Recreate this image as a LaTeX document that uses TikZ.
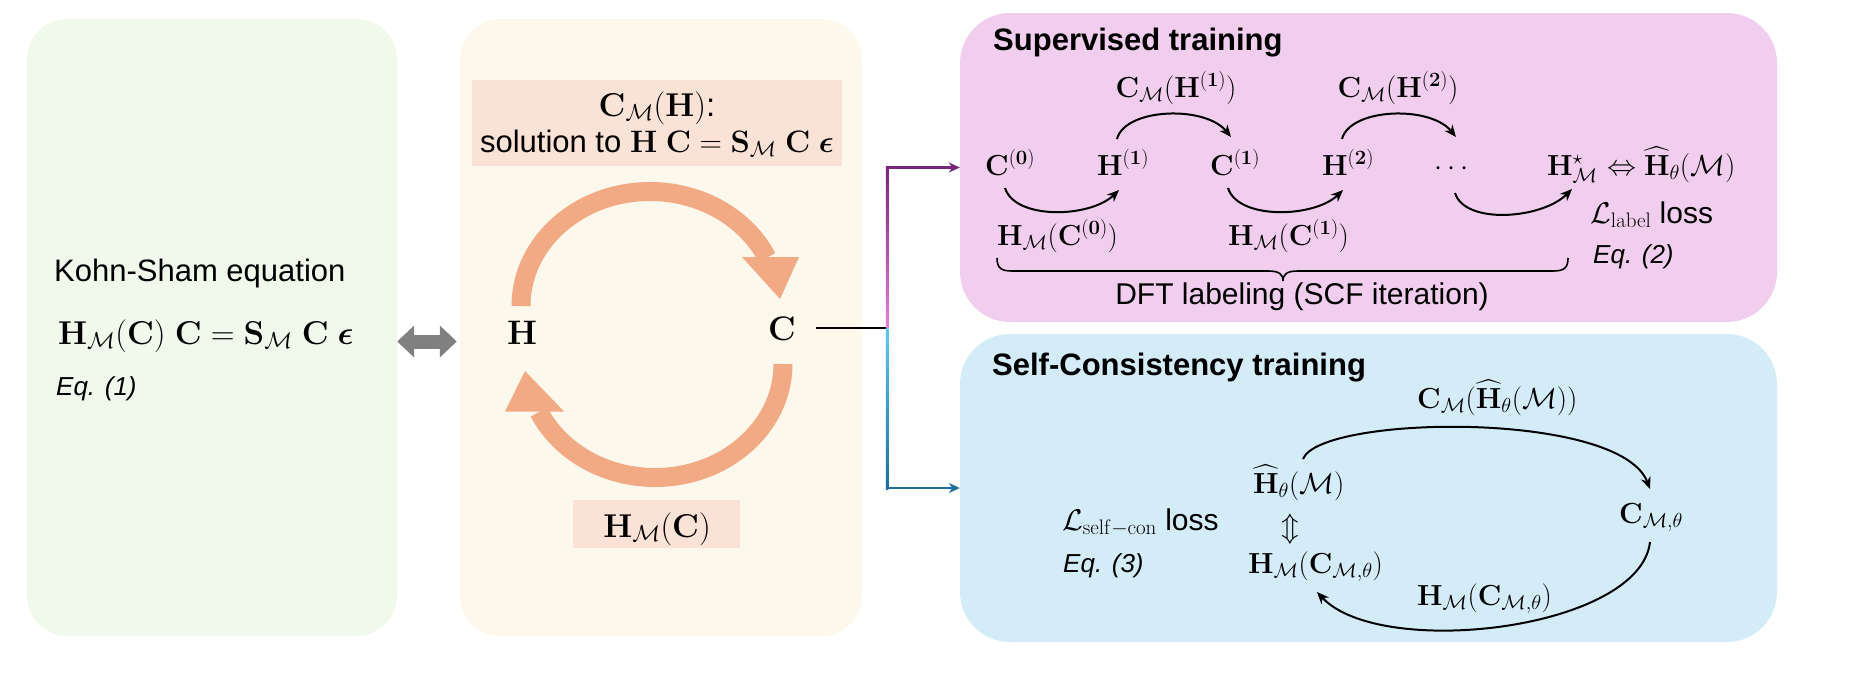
\documentclass[tikz,border=0pt]{standalone}
\usepackage{fix-cm}
\usepackage{amsmath,bm}
\usepackage[no-math]{fontspec}
\setmainfont{Liberation Sans}
\usetikzlibrary{arrows.meta}
\definecolor{greenbg}{RGB}{240,249,236}
\definecolor{yellowbg}{RGB}{253,248,236}
\definecolor{lblbg}{RGB}{251,226,214}
\definecolor{orangec}{RGB}{241,170,132}
\definecolor{pinkbg}{RGB}{241,206,238}
\definecolor{bluebg}{RGB}{211,236,247}
\definecolor{arrgray}{RGB}{128,128,128}
\definecolor{purpD}{RGB}{120,38,122}
\definecolor{purpL}{RGB}{228,128,214}
\definecolor{blueL}{RGB}{96,200,240}
\definecolor{blueD}{RGB}{28,110,160}
\newcommand{\myH}{\mathbf{H}}
\newcommand{\myC}{\mathbf{C}}
\newcommand{\myS}{\mathbf{S}}
\newcommand{\myM}{\mathcal{M}}
\begin{document}
\begin{tikzpicture}[x=1pt,y=-1pt,
  box/.style={inner sep=0pt, draw=none},
  mth/.style={inner sep=0pt, font=\fontsize{29}{34}\selectfont},
  bigm/.style={inner sep=0pt, font=\fontsize{33}{38}\selectfont},
  txt/.style={inner sep=0pt, font=\fontsize{30}{36}\selectfont},
  ttl/.style={inner sep=0pt, font=\fontsize{31}{36}\selectfont\bfseries},
  eqr/.style={inner sep=0pt, font=\fontsize{26}{30}\selectfont\itshape},
  arr/.style={line width=2pt, -{Stealth[length=12pt,width=10pt]}},
  band/.style={orangec, line width=19pt},
]
\useasboundingbox (0,0) rectangle (1852,680);

% panels
\node[box, fill=greenbg, rounded corners=40pt, minimum width=370pt, minimum height=617pt] (ks) at (212,327.5) {};
\node[box, fill=yellowbg, rounded corners=40pt, minimum width=402pt, minimum height=617pt] (cyc) at (661,327.5) {};
\node[box, fill=pinkbg, rounded corners=50pt, minimum width=817pt, minimum height=309pt] (sup) at (1368.5,167.5) {};
\node[box, fill=bluebg, rounded corners=50pt, minimum width=817pt, minimum height=308pt] (selfc) at (1368.5,488) {};

% Kohn-Sham panel
\node[txt, anchor=base west, font=\fontsize{31}{36}\selectfont] (kstitle) at (54,281) {Kohn-Sham equation};
\node[bigm, anchor=base west] (kseq) at (58,344) {$\myH_{\myM}(\myC)\;\myC=\myS_{\myM}\;\myC\;\bm{\epsilon}$};
\node[eqr, anchor=base west] (eq1) at (56,395) {Eq. (1)};

% gray double arrow
\draw[arrgray, line width=14pt, {Triangle[length=17pt,width=31pt]}-{Triangle[length=17pt,width=31pt]}]
  ([shift={(0,14)}]ks.east) -- ([shift={(-3,14)}]cyc.west);

% cycle panel
\node[box, fill=lblbg, minimum width=370pt, minimum height=86pt] (toplbl) at (657,123) {};
\node[bigm, anchor=base] (toplblA) at (657,116) {$\myC_{\myM}(\myH)$:};
\node[bigm, anchor=base, font=\fontsize{31}{36}\selectfont] (toplblB) at (657,152) {solution to $\myH\;\myC=\myS_{\myM}\;\myC\;\bm{\epsilon}$};
\node[box, fill=lblbg, minimum width=167pt, minimum height=48pt] (botlbl) at (656.5,524) {};
\node[bigm, anchor=base] (botlblA) at (657,537) {$\myH_{\myM}(\myC)$};
\node[bigm, anchor=base, font=\fontsize{34}{38}\selectfont] (nH) at (522,344) {$\myH$};
\node[bigm, anchor=base, font=\fontsize{34}{38}\selectfont] (nC) at (782,340) {$\myC$};

\draw[band] (521,306) arc[start angle=180, end angle=25, x radius=129pt, y radius=114.5pt];
\fill[orangec] (742,257) -- (799,257) -- (780,299) -- cycle;
\draw[band] (783,364) arc[start angle=0, end angle=-155, x radius=128pt, y radius=113.5pt];
\fill[orangec] (505,411.5) -- (564,411.5) -- (525,371) -- cycle;

% connectors from C
\coordinate (J) at (887,328);
\draw[black, line width=2.5pt] ([xshift=20pt]nC.east |- J) -- (J);
\draw[purpD, line width=2.5pt, -{Stealth[length=11pt,width=10pt]}] (J) |- (sup.west);
\draw[blueD, line width=2.5pt, -{Stealth[length=11pt,width=10pt]}] (J) |- (selfc.west);
\shade[top color=purpD, bottom color=purpL] (885.75,166.5) rectangle (888.25,328);
\shade[top color=blueL, bottom color=blueD] (885.75,328) rectangle (888.25,489.2);

% supervised training
\node[ttl, anchor=base west] (supt) at (993,50) {Supervised training};
\node[mth, anchor=base west] (c0) at (985,175) {$\myC^{(\mathbf{0})}$};
\node[mth, anchor=base west] (h1) at (1097,175) {$\myH^{(\mathbf{1})}$};
\node[mth, anchor=base west] (c1) at (1210,175) {$\myC^{(\mathbf{1})}$};
\node[mth, anchor=base west] (h2) at (1322,175) {$\myH^{(\mathbf{2})}$};
\node[mth, anchor=base] (dots) at (1454,175) {$\cdots$};
\node[mth, anchor=base west] (hs) at (1547,175) {$\myH^{\star}_{\myM}$};
\node[mth, anchor=base west] (hhat) at ([xshift=1pt]hs.base east) {${}\Leftrightarrow{}\widehat{\myH}_{\theta}(\myM)$};

\node[mth, anchor=base] (lbl1) at (1176,97) {$\myC_{\myM}(\myH^{(\mathbf{1})})$};
\node[mth, anchor=base] (lbl2) at (1398,97) {$\myC_{\myM}(\myH^{(\mathbf{2})})$};
\node[mth, anchor=base west] (lbl3) at (997,245) {$\myH_{\myM}(\myC^{(\mathbf{0})})$};
\node[mth, anchor=base west] (lbl4) at (1228,245) {$\myH_{\myM}(\myC^{(\mathbf{1})})$};
\node[txt, anchor=base west] (lossl) at (1590,223) {$\mathcal{L}_{\mathrm{label}}$ loss};
\node[eqr, anchor=base west] (eq2) at (1593,263) {Eq. (2)};
\node[txt, anchor=base] (dft) at (1302,304) {DFT labeling (SCF iteration)};

\draw[line width=1.6pt] (997,258) .. controls (997,268) and (1001,271) .. (1012,271) -- (1268,271)
  .. controls (1279,271) and (1283,274) .. (1283,281)
  .. controls (1283,274) and (1287,271) .. (1298,271) -- (1553,271)
  .. controls (1564,271) and (1568,268) .. (1568,258);

\draw[arr] ([shift={(20,13)}]c0.base west) .. controls +(10,32) and +(-29,28) .. ([shift={(22,15)}]h1.base west);
\draw[arr] ([shift={(20,-36)}]h1.base west) .. controls +(8,-31) and +(-26,-32) .. ([shift={(21,-38)}]c1.base west);
\draw[arr] ([shift={(18,13)}]c1.base west) .. controls +(10,32) and +(-29,28) .. ([shift={(21,15)}]h2.base west);
\draw[arr] ([shift={(20,-36)}]h2.base west) .. controls +(8,-31) and +(-26,-32) .. ([shift={(2,-38)}]dots.base);
\draw[arr] ([shift={(1,18)}]dots.base) .. controls +(10,32) and +(-30,30) .. ([shift={(25,14)}]hs.base west);

% self-consistency training
\node[ttl, anchor=base west] (sct) at (992,375) {Self-Consistency training};
\node[mth, anchor=base west] (lblA) at (1417,408) {$\myC_{\myM}(\widehat{\myH}_{\theta}(\myM))$};
\node[mth, anchor=base west] (hth) at (1253,493) {$\widehat{\myH}_{\theta}(\myM)$};
\node[mth] (ud) at (1290,529) {$\Updownarrow$};
\node[mth, anchor=base west] (hmc) at (1248,573) {$\myH_{\myM}(\myC_{\myM,\theta})$};
\node[txt, anchor=base west] (lsc) at (1062,530) {$\mathcal{L}_{\mathrm{self-con}}$ loss};
\node[eqr, anchor=base west] (eq3) at (1063,572) {Eq. (3)};
\node[mth, anchor=base west] (cmt) at (1619,523) {$\myC_{\myM,\theta}$};
\node[mth, anchor=base west] (lblB) at (1417,605) {$\myH_{\myM}(\myC_{\myM,\theta})$};

\draw[arr] ([shift={(50,-34)}]hth.base west) .. controls +(17,-44) and +(-30,-79) .. ([shift={(31,-34)}]cmt.base west);
\draw[arr] ([shift={(31,19)}]cmt.base west) .. controls +(-10,88) and +(63,68) .. ([shift={(69,19)}]hmc.base west);
\end{tikzpicture}
\end{document}
